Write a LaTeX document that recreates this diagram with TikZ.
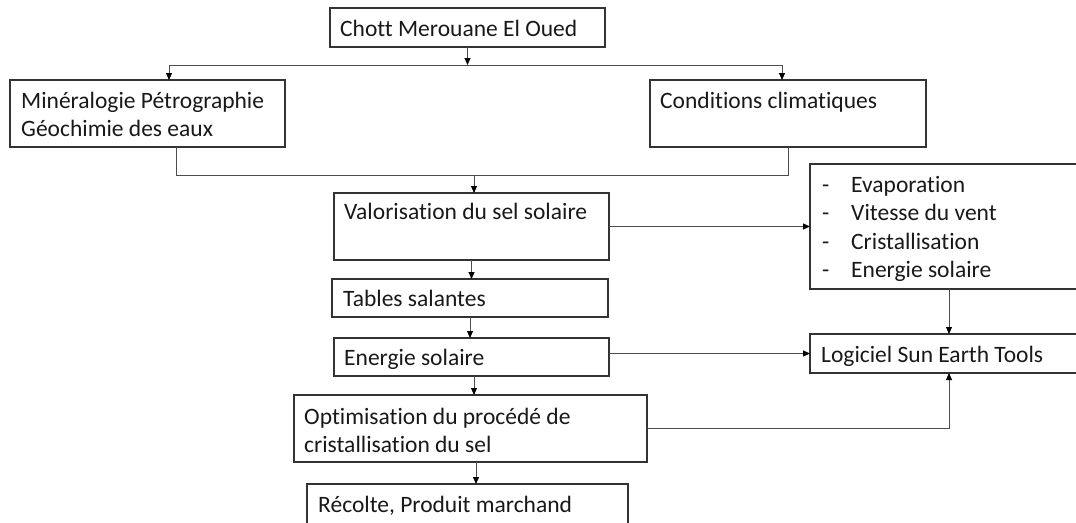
\documentclass[tikz,border=0pt]{standalone}
\usepackage{fontspec}
\setmainfont[Ligatures=NoCommon]{Carlito}
\usetikzlibrary{arrows.meta}
\begin{document}
\begin{tikzpicture}[x=1pt,y=-1pt,
  box/.style={draw=black!80, line width=1.1pt, rectangle, inner sep=0pt, outer sep=0pt, anchor=north west},
  txt/.style={anchor=base west, inner sep=0pt, font=\fontsize{23.5}{28}\selectfont, text=black!90},
  conn/.style={draw=black!70, line width=0.9pt},
  arr/.style={conn, -{Triangle[length=7pt,width=6pt,color=black,fill=black]}}]
\useasboundingbox (0,0) rectangle (1076,522);
\clip (0,0) rectangle (1076,522);
\fill[white] (0,0) rectangle (1076,522);
% boxes
\node[box, minimum width=275pt, minimum height=39pt] (chott) at (330,8) {};
\node[box, minimum width=275pt, minimum height=67pt] (min) at (10,80) {};
\node[box, minimum width=276pt, minimum height=67pt] (cond) at (650,80) {};
\node[box, minimum width=275pt, minimum height=67pt] (val) at (334,193) {};
\node[box, minimum width=278pt, minimum height=125pt] (list) at (810,164) {};
\node[box, minimum width=276pt, minimum height=38pt] (tab) at (332,279) {};
\node[box, minimum width=275pt, minimum height=38pt] (en) at (334,338) {};
\node[box, minimum width=278pt, minimum height=39pt] (log) at (810,334) {};
\node[box, minimum width=353pt, minimum height=67pt] (opt) at (294,395) {};
\node[box, minimum width=321pt, minimum height=50pt] (rec) at (307,484) {};
% texts
\node[txt] (tchott) at (340,36) {Chott Merouane El Oued};
\node[txt] (tmin1) at (21,108) {Minéralogie Pétrographie};
\node[txt] (tmin2) at (21,136.5) {Géochimie des eaux};
\node[txt] (tcond) at (660,108) {Conditions climatiques};
\node[txt] (tval) at (344,219) {Valorisation du sel solaire};
\node[txt] (ttab) at (343,306) {Tables salantes};
\node[txt] (ten) at (344,365) {Energie solaire};
\node[txt] (d1) at (822,192) {-};
\node[txt] (l1) at (851,192) {Evaporation};
\node[txt] (d2) at (822,220.5) {-};
\node[txt] (l2) at (851,220.5) {Vitesse du vent};
\node[txt] (d3) at (822,249) {-};
\node[txt] (l3) at (851,249) {Cristallisation};
\node[txt] (d4) at (822,277.5) {-};
\node[txt] (l4) at (851,277.5) {Energie solaire};
\node[txt] (tlog) at (821,362) {Logiciel Sun Earth Tools};
\node[txt] (topt1) at (304,424) {Optimisation du procédé de};
\node[txt] (topt2) at (304,452) {cristallisation du sel};
\node[txt] (trec) at (318,512) {Récolte, Produit marchand};
% connectors
\coordinate (split) at (467.5,65);
\draw[arr] (chott.south) -- (split);
\draw[arr] (split) -| ([xshift=21.5pt]min.north);
\draw[arr] (split) -| ([xshift=-6pt]cond.north);
\coordinate (merge) at (474,175);
\draw[conn] ([xshift=28.5pt]min.south) |- (merge);
\draw[conn] (cond.south) |- (merge);
\draw[arr] (merge) -- (merge |- val.north);
\draw[arr] (val.east) -- (list.west);
\draw[arr] (val.south) -- (val.south |- tab.north);
\draw[arr] (tab.south) -- (tab.south |- en.north);
\draw[arr] (en.east |- log.west) -- (log.west);
\draw[arr] (list.south) -- (log.north);
\draw[arr] ([xshift=2.5pt]en.south) -- ([xshift=2.5pt]en.south |- opt.north);
\draw[arr] (opt.east) -| (log.south);
\draw[arr] ([xshift=5.5pt]opt.south) -- ([xshift=5.5pt]opt.south |- rec.north);
\end{tikzpicture}
\end{document}
